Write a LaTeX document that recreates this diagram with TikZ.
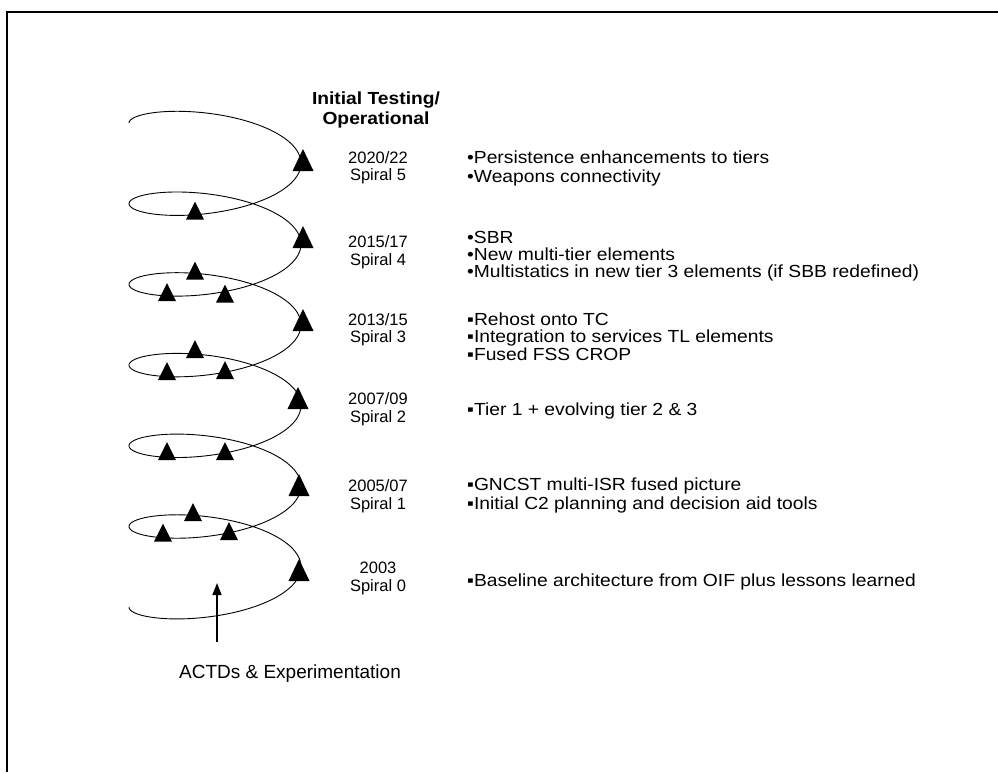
\documentclass[tikz,border=0pt]{standalone}
\usepackage{fontspec}
\setmainfont{Liberation Sans}
\newfontfamily\bodyfont[FakeStretch=1.1]{Liberation Sans}
\usetikzlibrary{arrows.meta}
\begin{document}
\begin{tikzpicture}[x=1pt,y=-1pt,
  bodytxt/.style={font=\bodyfont\fontsize{17.5}{20}\selectfont, anchor=base west, inner sep=0pt},
  datetxt/.style={font=\fontsize{16.5}{19}\selectfont, anchor=base, inner sep=0pt},
  hdrtxt/.style={font=\bodyfont\bfseries\fontsize{17.5}{20}\selectfont, anchor=base, inner sep=0pt},
  labtxt/.style={font=\fontsize{19}{22}\selectfont, anchor=base, inner sep=0pt},
  helix/.style={line width=0.9pt},
  bigtri/.pic={\fill (-10.5,11) -- (10.5,11) -- (0,-11) -- cycle;},
  smalltri/.pic={\fill (-9,9) -- (9,9) -- (0,-9) -- cycle;}
]
\useasboundingbox (0,0) rectangle (998,772);
% frame
\draw[line width=2pt] (998,12) -- (7,12) -- (7,772);
% helix
\draw[helix] plot[domain=0:2160, samples=600, smooth, variable=\t]
  ({215-86*cos(\t)}, {123+0.224167*\t-29*sin(\t)});
% right triangles
\pic at (303,160) {bigtri};
\pic at (303,237) {bigtri};
\pic at (303,320) {bigtri};
\pic at (298,398) {bigtri};
\pic at (299,485) {bigtri};
\pic at (299,570) {bigtri};
% small triangles
\pic at (195,210.5) {smalltri};
\pic at (195,270.5) {smalltri};
\pic at (167,292) {smalltri};
\pic at (225,293.5) {smalltri};
\pic at (195,349) {smalltri};
\pic at (167,371) {smalltri};
\pic at (225,370) {smalltri};
\pic at (167,451) {smalltri};
\pic at (225,451) {smalltri};
\pic at (193,512) {smalltri};
\pic at (163,532.5) {smalltri};
\pic at (229,531) {smalltri};
% header
\node[hdrtxt] (h1) at (376,104) {Initial Testing/};
\node[hdrtxt] (h2) at (376,124) {Operational};
% dates
\node[datetxt] (d5a) at (378,163) {2020/22};
\node[datetxt] (d5b) at (378,180) {Spiral 5};
\node[datetxt] (d4a) at (378,247) {2015/17};
\node[datetxt] (d4b) at (378,265) {Spiral 4};
\node[datetxt] (d3a) at (378,325) {2013/15};
\node[datetxt] (d3b) at (378,342) {Spiral 3};
\node[datetxt] (d2a) at (378,404) {2007/09};
\node[datetxt] (d2b) at (378,422) {Spiral 2};
\node[datetxt] (d1a) at (378,491) {2005/07};
\node[datetxt] (d1b) at (378,509) {Spiral 1};
\node[datetxt] (d0a) at (378,573) {2003};
\node[datetxt] (d0b) at (378,591) {Spiral 0};
% bullet texts
\node[bodytxt] (b5a) at (467,163) {•Persistence enhancements to tiers};
\node[bodytxt] (b5b) at (467,182) {•Weapons connectivity};
\node[bodytxt] (b4a) at (467,243) {•SBR};
\node[bodytxt] (b4b) at (467,260) {•New multi-tier elements};
\node[bodytxt] (b4c) at (467,277) {•Multistatics in new tier 3 elements (if SBB redefined)};
\node[bodytxt] (b3a) at (467,325) {▪Rehost onto TC};
\node[bodytxt] (b3b) at (467,342) {▪Integration to services TL elements};
\node[bodytxt] (b3c) at (467,360) {▪Fused FSS CROP};
\node[bodytxt] (b2a) at (467,415) {▪Tier 1 + evolving tier 2 \& 3};
\node[bodytxt] (b1a) at (467,490) {▪GNCST multi-ISR fused picture};
\node[bodytxt] (b1b) at (467,509) {▪Initial C2 planning and decision aid tools};
\node[bodytxt] (b0a) at (467,586) {▪Baseline architecture from OIF plus lessons learned};
% arrow and label
\coordinate (tail) at (217,642);
\coordinate (head) at (217,583);
\draw[line width=1.6pt, -{Triangle[length=12pt,width=9pt]}] (tail) -- (head);
\node[labtxt] (actd) at (290,678) {ACTDs \& Experimentation};
\end{tikzpicture}
\end{document}
